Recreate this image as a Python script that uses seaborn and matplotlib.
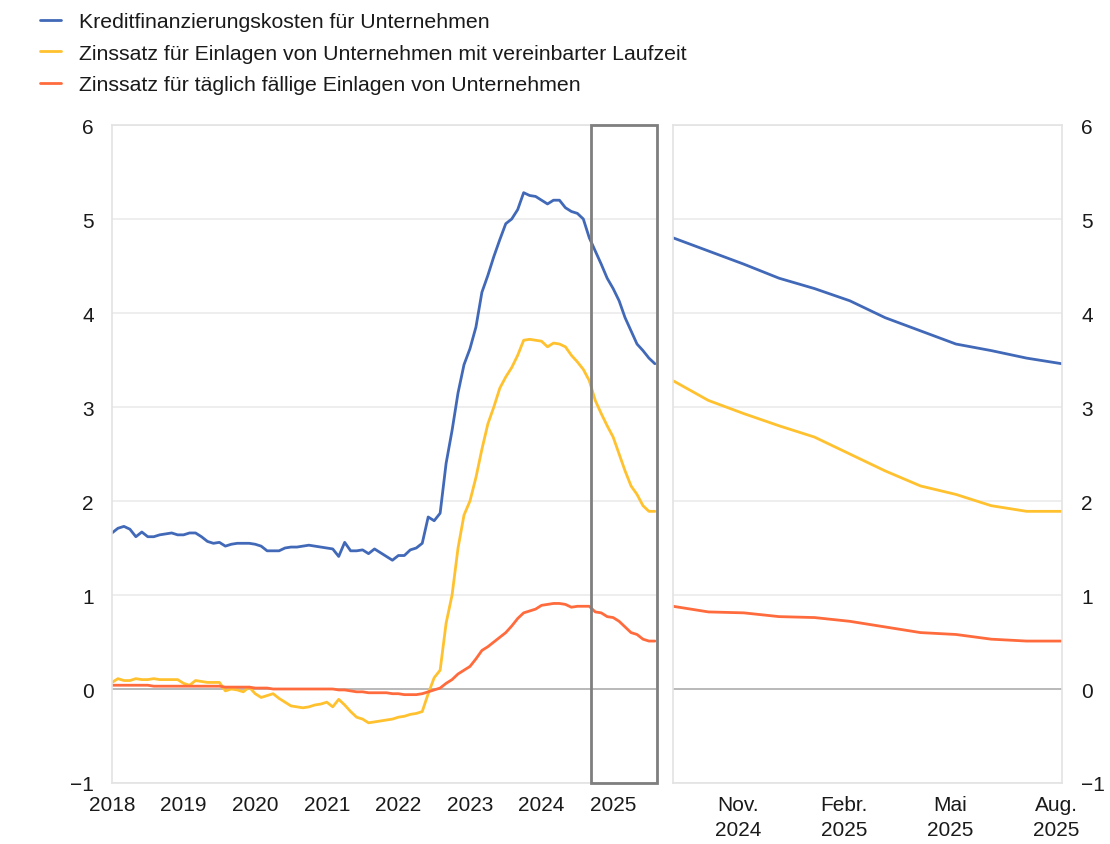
import numpy as np
import pandas as pd
import matplotlib
matplotlib.use("Agg")
import matplotlib.pyplot as plt
import matplotlib.transforms as mtransforms
from matplotlib.patches import Rectangle
import seaborn as sns

# ---------------- data ----------------
# Monthly, Jan 2018 .. Aug 2025 (92 values)
blue = [1.66, 1.71, 1.73, 1.70, 1.62, 1.67, 1.62, 1.62, 1.64, 1.65, 1.66, 1.64,
        1.64, 1.66, 1.66, 1.62, 1.57, 1.55, 1.56, 1.52, 1.54, 1.55, 1.55, 1.55,
        1.54, 1.52, 1.47, 1.47, 1.47, 1.50, 1.51, 1.51, 1.52, 1.53, 1.52, 1.51,
        1.50, 1.49, 1.41, 1.56, 1.47, 1.47, 1.48, 1.44, 1.49, 1.45, 1.41, 1.37,
        1.42, 1.42, 1.48, 1.50, 1.55, 1.83, 1.79, 1.87, 2.40, 2.75, 3.15, 3.45,
        3.62, 3.85, 4.22, 4.40, 4.60, 4.78, 4.95, 5.00, 5.10, 5.28, 5.25, 5.24,
        5.20, 5.16, 5.20, 5.20, 5.12, 5.08, 5.06, 5.00,
        4.80, 4.66, 4.52, 4.37, 4.26, 4.13, 3.95, 3.81, 3.67, 3.60, 3.52, 3.46]
yellow = [0.07, 0.11, 0.09, 0.09, 0.11, 0.10, 0.10, 0.11, 0.10, 0.10, 0.10, 0.10,
          0.06, 0.04, 0.09, 0.08, 0.07, 0.07, 0.07, -0.02, 0.00, -0.01, -0.03, 0.02,
          -0.05, -0.09, -0.07, -0.05, -0.10, -0.14, -0.18, -0.19, -0.20, -0.19, -0.17, -0.16,
          -0.14, -0.19, -0.11, -0.17, -0.24, -0.30, -0.32, -0.36, -0.35, -0.34, -0.33, -0.32,
          -0.30, -0.29, -0.27, -0.26, -0.24, -0.05, 0.12, 0.20, 0.70, 1.00, 1.50, 1.85,
          2.00, 2.25, 2.55, 2.82, 3.00, 3.20, 3.32, 3.42, 3.55, 3.71, 3.72, 3.71,
          3.70, 3.64, 3.68, 3.67, 3.64, 3.55, 3.48, 3.40,
          3.28, 3.07, 2.93, 2.80, 2.68, 2.50, 2.32, 2.16, 2.07, 1.95, 1.89, 1.89]
red = [0.04, 0.04, 0.04, 0.04, 0.04, 0.04, 0.04, 0.03, 0.03, 0.03, 0.03, 0.03,
       0.03, 0.03, 0.03, 0.03, 0.03, 0.03, 0.03, 0.02, 0.02, 0.02, 0.02, 0.02,
       0.01, 0.01, 0.01, 0.00, 0.00, 0.00, 0.00, 0.00, 0.00, 0.00, 0.00, 0.00,
       0.00, 0.00, -0.01, -0.01, -0.02, -0.03, -0.03, -0.04, -0.04, -0.04, -0.04, -0.05,
       -0.05, -0.06, -0.06, -0.06, -0.05, -0.03, -0.01, 0.01, 0.06, 0.10, 0.16, 0.20,
       0.24, 0.32, 0.41, 0.45, 0.50, 0.55, 0.60, 0.67, 0.75, 0.81, 0.83, 0.85,
       0.89, 0.90, 0.91, 0.91, 0.90, 0.87, 0.88, 0.88,
       0.88, 0.82, 0.81, 0.77, 0.76, 0.72, 0.66, 0.60, 0.58, 0.53, 0.51, 0.51]

series_names = ["Kreditfinanzierungskosten für Unternehmen",
                "Zinssatz für Einlagen von Unternehmen mit vereinbarter Laufzeit",
                "Zinssatz für täglich fällige Einlagen von Unternehmen"]
colors = ["#4169B8", "#FFC12E", "#FF6B3D"]

year_labels = ["2018", "2019", "2020", "2021", "2022", "2023", "2024", "2025"]
zoom_months = 12  # Sep 2024 .. Aug 2025
zoom_tick_idx = [2, 5, 8, 11]
zoom_tick_labels = ["Nov.\n2024", "Febr.\n2025", "Mai\n2025", "Aug.\n2025"]
y_ticks = [-1, 0, 1, 2, 3, 4, 5, 6]

# ---------------- figure ----------------
sns.set_theme(style="white")
plt.rcParams["font.family"] = ["Liberation Sans", "DejaVu Sans"]
plt.rcParams["text.color"] = "#1A1A1A"

W, H = 1110, 845
fig = plt.figure(figsize=(W / 100, H / 100), dpi=100)

def frac(x0, y0, x1, y1):
    return [x0 / W, 1 - y1 / H, (x1 - x0) / W, (y1 - y0) / H]

axL = fig.add_axes(frac(112, 126, 657, 784))
axR = fig.add_axes(frac(673, 126, 1062, 784))

n = len(blue)
months = np.arange(n)
df = pd.DataFrame({"m": months, "b": blue, "y": yellow, "r": red})
dz = df.iloc[n - zoom_months:].copy()
dz["mz"] = np.arange(zoom_months)

grid_c = "#EDEDED"
frame_c = "#E3E3E3"
for ax in (axL, axR):
    ax.set_ylim(-1, 6)
    ax.set_yticks(y_ticks)
    ax.grid(False)
    for yv in y_ticks:
        if yv != 0:
            ax.axhline(yv, color=grid_c, lw=1.3, zorder=0)
    ax.axhline(0, color="#A6A6A6", lw=1.1, zorder=1)
    for s in ax.spines.values():
        s.set_color(frame_c)
        s.set_linewidth(1.2)
    ax.tick_params(axis="both", length=0, labelsize=15, colors="#1A1A1A")

for col, c, name in zip(["b", "y", "r"], colors, series_names):
    sns.lineplot(data=df, x="m", y=col, ax=axL, color=c, lw=2.0, label=name, legend=False)
    sns.lineplot(data=dz, x="mz", y=col, ax=axR, color=c, lw=2.0, legend=False)

axL.set_xlim(0, n - 1 + 0.35)
axL.set_xticks(np.arange(len(year_labels)) * 12)
axL.set_xticklabels(year_labels)
axL.tick_params(axis="y", pad=13)
axL.tick_params(axis="x", pad=9)
axL.set_xlabel("")
axL.set_ylabel("")

axR.set_xlim(0, zoom_months - 1)
axR.set_xticks(zoom_tick_idx)
axR.set_xticklabels(zoom_tick_labels, linespacing=1.35)
axR.yaxis.tick_right()
axR.tick_params(axis="y", pad=14, labelleft=False, labelright=True)
axR.tick_params(axis="x", pad=9)
axR.set_xlabel("")
axR.set_ylabel("")
shift = mtransforms.ScaledTranslation(-6 / 100, 0, fig.dpi_scale_trans)
for lbl in axR.get_xticklabels():
    lbl.set_transform(lbl.get_transform() + shift)

# box marking the zoomed period
x0 = n - zoom_months + 0.3
x1 = axL.get_xlim()[1]
axL.add_patch(Rectangle((x0, -1), x1 - x0, 7, fill=False, edgecolor="#7F7F7F",
                        lw=2.0, clip_on=False, zorder=5))

handles, labels = axL.get_legend_handles_labels()
leg = fig.legend(handles, labels, loc="upper left", bbox_to_anchor=(31 / W, 1 - 5 / H),
                 frameon=False, fontsize=15.3, handlelength=1.0, handletextpad=0.85,
                 labelspacing=0.58, borderaxespad=0)
for lh in leg.get_lines():
    lh.set_linewidth(2.0)

fig.savefig("out.png", dpi=100)
